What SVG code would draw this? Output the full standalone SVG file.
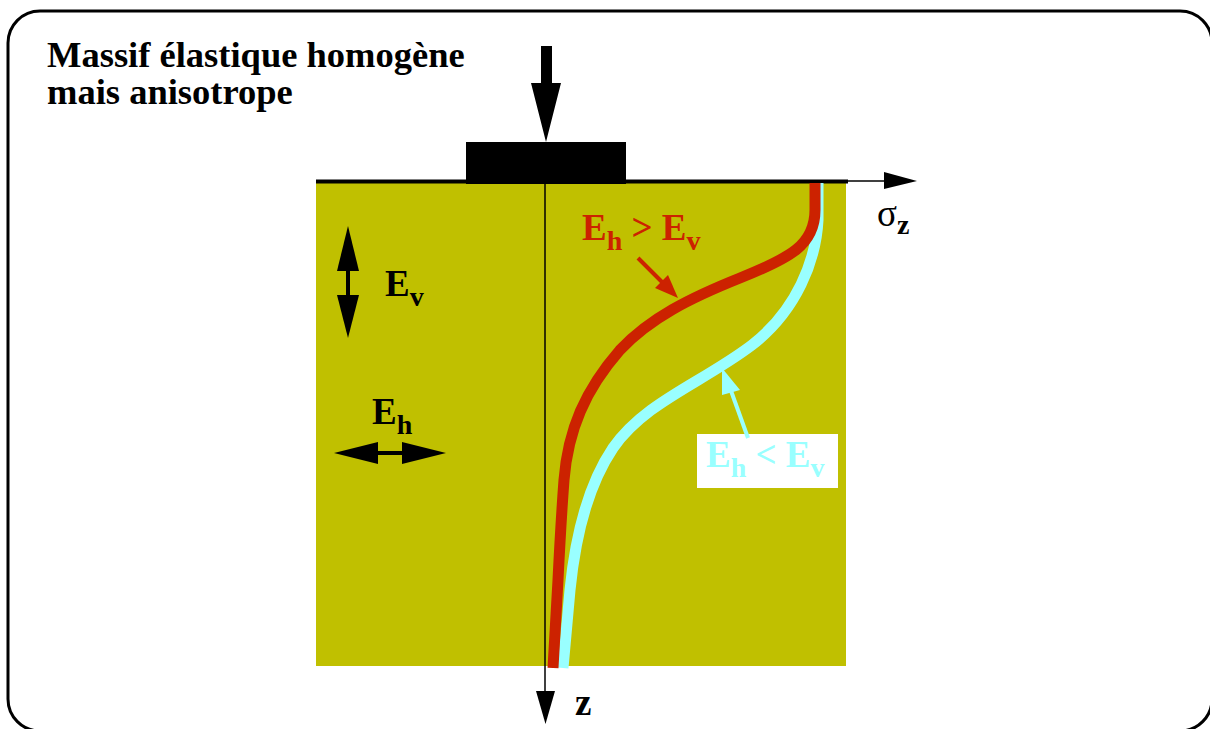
<svg xmlns="http://www.w3.org/2000/svg" width="1210" height="729" viewBox="0 0 1210 729">
<style>
.t{font-family:"Liberation Serif","Times New Roman",serif;font-weight:bold}
.lab{font-size:37px}
.sub{font-size:28px}
</style>
<rect x="8" y="11" width="1204" height="720" rx="32" ry="32" fill="#fff" stroke="#000" stroke-width="3"/>
<g id="title">
<text class="t" x="47" y="67" font-size="36.5">Massif élastique homogène</text>
<text class="t" x="47" y="104" font-size="36.5">mais anisotrope</text>
</g>
<g id="soil">
<rect x="316" y="182" width="530" height="484" fill="#c0c000"/>
<line x1="316" y1="181.5" x2="848" y2="181.5" stroke="#000" stroke-width="4"/>
</g>
<g id="footing">
<rect x="466" y="142" width="160" height="42" fill="#000"/>
</g>
<g id="load">
<polygon points="541,46 552,46 552,83 561,83 546,142 531,83 541,83" fill="#000"/>
</g>
<g id="axes">
<line x1="545" y1="182" x2="545" y2="692" stroke="#000" stroke-width="1.5"/>
<polygon points="536,691 555,691 545.5,724" fill="#000"/>
<line x1="848" y1="181" x2="885" y2="181" stroke="#000" stroke-width="1.5"/>
<polygon points="884,172 884,189 917,181" fill="#000"/>
<text class="t lab" x="877" y="226" style="font-weight:normal">σ<tspan class="sub" dy="8" font-weight="bold">z</tspan></text>
<text class="t lab" x="575" y="715">z</text>
</g>
<g id="ev-arrow">
<line x1="348" y1="268" x2="348" y2="298" stroke="#000" stroke-width="4"/>
<polygon points="348,226 359,271 337,271" fill="#000"/>
<polygon points="348,338 359,295 337,295" fill="#000"/>
<text class="t lab" x="385" y="296">E<tspan class="sub" dy="10">v</tspan></text>
</g>
<g id="eh-arrow">
<line x1="375" y1="453" x2="405" y2="453" stroke="#000" stroke-width="4"/>
<polygon points="334,453 378,442 378,464" fill="#000"/>
<polygon points="446,453 402,442 402,464" fill="#000"/>
<text class="t lab" x="372" y="424">E<tspan class="sub" dy="10">h</tspan></text>
</g>
<g id="curves">
<path d="M818,183 L818,220 C816,260 797,310 752,345 C702,383 645,402 613,448 C586,488 575,540 570,590 L563,668" fill="none" stroke="#99ffff" stroke-width="11"/>
<path d="M815,183 L815,210 C815,245 790,258 740,278 C690,298 650,318 620,350 C585,390 568,430 564,480 C561,520 560,540 558,580 L553,668" fill="none" stroke="#cc2200" stroke-width="11"/>
</g>
<g id="label-red">
<text class="t lab" x="582" y="240" fill="#cc2200">E<tspan class="sub" dy="10">h</tspan><tspan dy="-10"> &gt; E</tspan><tspan class="sub" dy="10">v</tspan></text>
<line x1="638" y1="258" x2="665" y2="285" stroke="#cc2200" stroke-width="4"/>
<polygon points="678,298 655,288 668,275" fill="#cc2200"/>
</g>
<g id="label-cyan">
<rect x="697" y="434" width="141" height="54" fill="#fff"/>
<text class="t lab" x="706" y="467" fill="#99ffff">E<tspan class="sub" dy="10">h</tspan><tspan dy="-10"> &lt; E</tspan><tspan class="sub" dy="10">v</tspan></text>
<line x1="748" y1="438" x2="730" y2="388" stroke="#99ffff" stroke-width="4"/>
<polygon points="722,368 740,390 722,395" fill="#99ffff"/>
</g>
</svg>
